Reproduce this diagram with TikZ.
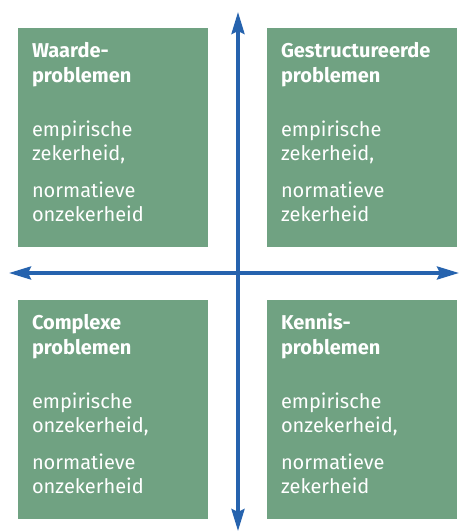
\documentclass[tikz,border=0pt]{standalone}
\usepackage{fontspec}
\setmainfont{Fira Sans}
\usetikzlibrary{arrows.meta,calc}
\definecolor{boxgreen}{RGB}{112,162,130}
\definecolor{axisblue}{RGB}{38,99,174}
\begin{document}
\begin{tikzpicture}[x=1pt,y=-1pt,
  box/.style={rectangle,fill=boxgreen,draw=none,minimum width=190pt,minimum height=219pt,inner sep=0pt},
  title/.style={anchor=north west,align=left,inner sep=0pt,text=white,font=\fontsize{20}{25}\selectfont\bfseries},
  body/.style={anchor=north west,align=left,inner sep=0pt,text=white,font=\fontsize{20}{24}\selectfont},
  axis/.style={draw=axisblue,line width=3.5pt,{Stealth[length=22pt,width=13pt,inset=3pt]}-{Stealth[length=22pt,width=13pt,inset=3pt]}}]
\useasboundingbox (0,0) rectangle (459,532);
\node[box] (tl) at (113,137.5) {};
\node[box] (tr) at (362,137.5) {};
\node[box] (bl) at (113,409) {};
\node[box] (br) at (362,409) {};
\coordinate (vtop) at (238,12);
\coordinate (vbot) at (238,531);
\coordinate (hleft) at (9,273);
\coordinate (hright) at (459,273);
\draw[axis] (vbot) -- (vtop);
\draw[axis] (hleft) -- (hright);
% texts
\node[title] (tlt) at ($(tl.north west)+(14,12.5)$) {\strut Waarde-\\problemen};
\node[body] (tlb) at ($(tl.north west)+(14,93)$) {empirische\\zekerheid,\\[13pt]normatieve\\onzekerheid};
\node[title] (trt) at ($(tr.north west)+(14,12.5)$) {\strut Gestructureerde\\problemen};
\node[body] (trb) at ($(tr.north west)+(14,93)$) {empirische\\zekerheid,\\[13pt]normatieve\\zekerheid};
\node[title] (blt) at ($(bl.north west)+(14,12.5)$) {\strut Complexe\\problemen};
\node[body] (blb) at ($(bl.north west)+(14,93)$) {empirische\\onzekerheid,\\[13pt]normatieve\\onzekerheid};
\node[title] (brt) at ($(br.north west)+(14,12.5)$) {\strut Kennis-\\problemen};
\node[body] (brb) at ($(br.north west)+(14,93)$) {empirische\\onzekerheid,\\[13pt]normatieve\\zekerheid};
\end{tikzpicture}
\end{document}
